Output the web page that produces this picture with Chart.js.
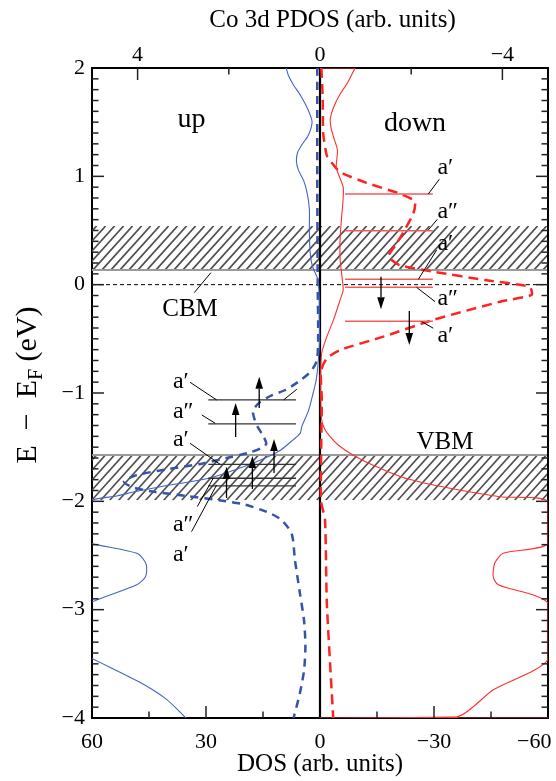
<!DOCTYPE html>
<html><head><meta charset="utf-8">
<script src="https://cdn.jsdelivr.net/npm/chart.js@4.4.1/dist/chart.umd.min.js"></script>
<style>html,body{margin:0;padding:0;background:#fff;}#wrap{width:556px;height:781px;}</style>
</head><body><div id="wrap"><canvas id="c" width="556" height="781"></canvas></div>
<script>
// ---------------- data (E in eV, DOS / PDOS in arb. units) ----------------
const upTotalE   = [2.0,1.93,1.85,1.74,1.62,1.51,1.44,1.37,1.29,1.22,1.14,1.06,0.96,0.85,0.70,0.50,0.30,0.17,0.05,-0.10,-0.30,-0.50,-0.73,-0.88,-1.00,-1.16,-1.31,-1.37,-1.43,-1.53,-1.62,-1.71,-1.79,-1.85,-1.91,-1.95,-1.99,-2.15,-2.30,-2.39,-2.48,-2.56,-2.62,-2.70,-2.77,-2.93,-3.10,-3.30,-3.45,-3.67,-3.83,-4.00];
const upTotalDOS = [8.9,8.3,7.1,5.0,3.2,2.1,2.4,3.2,4.8,5.9,6.2,5.7,4.3,3.4,2.8,2.8,2.6,2.0,0.6,0.2,0.2,0.1,0.5,1.0,1.8,3.0,4.8,5.2,7.0,10.5,15.8,22.5,29.5,39.6,48.5,53.5,60,68,68,60,48.2,46.0,45.6,46.0,48.2,60,68,68,60,47.4,40.3,35.3];

const upPdosE   = [2.0,1.0,0.0,-0.5,-0.70,-0.80,-0.88,-0.97,-1.03,-1.10,-1.17,-1.25,-1.31,-1.40,-1.47,-1.51,-1.55,-1.59,-1.65,-1.70,-1.76,-1.82,-1.87,-1.91,-1.95,-1.99,-2.03,-2.10,-2.17,-2.30,-2.54,-2.85,-3.10,-3.34,-3.56,-3.77,-4.00];
const upPdosVal = [0.06,0.06,0.05,0.04,0.07,0.20,0.42,0.75,1.10,1.36,1.47,1.43,1.37,1.24,1.18,1.30,1.55,1.95,2.57,3.30,4.04,4.30,4.11,3.67,2.94,2.21,1.65,1.15,0.85,0.62,0.55,0.44,0.35,0.32,0.35,0.44,0.58];

const downTotalE   = [2.0,2.0,1.957,1.85,1.76,1.64,1.53,1.45,1.37,1.24,1.08,0.90,0.75,0.63,0.43,0.23,0.10,-0.05,-0.14,-0.33,-0.48,-0.63,-0.80,-0.91,-1.10,-1.25,-1.33,-1.40,-1.48,-1.556,-1.62,-1.68,-1.79,-1.88,-1.957,-2.00,-2.39,-2.48,-2.57,-2.70,-2.77,-2.94,-3.46,-3.74,-3.99,-4.0,-4.0];
const downTotalDOS = [0,-9.1,-8.6,-7.0,-5.3,-3.6,-2.7,-2.9,-3.5,-4.6,-4.3,-6.1,-6.0,-5.7,-5.3,-5.3,-5.7,-6.1,-5.3,-3.5,-1.8,-0.45,-0.2,-0.18,-0.25,-0.45,-1.2,-2.6,-4.8,-7.9,-11.2,-14.9,-22.8,-34.2,-47.4,-60,-60,-48.2,-46.0,-45.6,-46.9,-60,-60,-45.6,-36.0,0,-60];

const downPdosE   = [2.0,1.71,1.40,1.19,1.13,1.04,0.94,0.84,0.77,0.66,0.50,0.36,0.26,0.18,0.12,0.04,-0.02,-0.095,-0.157,-0.326,-0.48,-0.603,-0.68,-0.80,-1.06,-1.99,-2.17,-2.94,-4.0];
const downPdosVal = [-0.03,-0.06,-0.07,-0.15,-0.25,-0.44,-1.02,-1.75,-2.08,-2.05,-1.85,-1.65,-1.5,-1.75,-2.49,-3.66,-4.6,-4.64,-3.95,-2.48,-1.39,-0.44,-0.15,-0.02,-0.04,-0.02,-0.11,-0.15,-0.29];

// tick labels
const dosTicks  = [60,30,0,-30,-60];
const pdosTicks = [4,0,-4];
const eTicks    = [2,1,0,-1,-2,-3,-4];

// annotations (data units)
const bands = [[0.136,0.542],[-1.99,-1.572]];
const cbmE = 0.136, vbmE = -1.572;
const upLevelE = [-1.064,-1.285,-1.658,-1.787,-1.858];
const upLevelSpan = [29.4,6.3];
const downLevelE = [0.837,0.498,0.050,-0.024,-0.338];
const downLevelSpan = [-6.6,-29.7];
const upArrows = [[16.0,-1.138,-0.849],[22.2,-1.406,-1.092],[12.1,-1.738,-1.424],[17.8,-1.886,-1.581],[24.6,-1.969,-1.68]];
const downArrows = [[-16.05,0.074,-0.227],[-23.5,-0.243,-0.557]];
const upLabelText = ['a\u2032','a\u2033','a\u2032','a\u2033','a\u2032'];
const upLabelE = [-0.954,-1.230,-1.489,-2.274,-2.551];
const upLabelX = 38.7;
const downLabelText = ['a\u2032','a\u2033','a\u2032','a\u2033','a\u2032'];
const downLabelE = [1.022,0.613,0.320,-0.187,-0.529];
const downLabelX = -30.9;
const leaders = [[-28.5,0.837,-31.4,0.973],[-28.5,0.505,-30.9,0.604],[-25.9,0.050,-30.7,0.320],[-25.4,-0.024,-30.3,-0.157],[-26.8,-0.342,-29.8,-0.402],
  [34.2,-0.901,27.2,-1.064],[31.1,-1.203,27.6,-1.279],[34.2,-1.464,26.3,-1.658],[32.3,-2.049,28.1,-1.787],[33.8,-2.28,27.2,-1.849],[9.6,-1.064,6.1,-0.966],
  [33.1,-0.074,28.7,0.111]];
const textLabels = [['up',33.8,1.456,28],['down',-25,1.419,28],['VBM',-32.9,-1.517,25],['CBM',34.2,-0.289,25]];

// --------------------------------------------------------------------------
const SERIF = "'Liberation Serif','Times New Roman',serif";
Chart.defaults.font.family = SERIF;
Chart.defaults.color = '#000';
const fmt = v => (v < 0 ? '\u2212' + Math.abs(v) : String(v));
const pts = (es, vs) => es.map((e, i) => ({x: vs[i], y: e}));

const deco = {
  id: 'deco',
  beforeDatasetsDraw(chart) {
    const {ctx, chartArea: a, scales: {x, y}} = chart;
    ctx.save();
    bands.forEach(([e0, e1]) => {
      const yT = y.getPixelForValue(e1), yB = y.getPixelForValue(e0), h = yB - yT;
      ctx.save();
      ctx.beginPath(); ctx.rect(a.left, yT, a.right - a.left, h); ctx.clip();
      ctx.strokeStyle = '#505050'; ctx.lineWidth = 1.7;
      for (let k = -h; k < a.right - a.left + h; k += 9) {
        ctx.beginPath(); ctx.moveTo(a.left + k, yB); ctx.lineTo(a.left + k + h * 0.9, yT); ctx.stroke();
      }
      ctx.restore();
    });
    ctx.strokeStyle = '#9a9a9a'; ctx.lineWidth = 2;
    [cbmE, vbmE].forEach(e => { const p = y.getPixelForValue(e); ctx.beginPath(); ctx.moveTo(a.left, p); ctx.lineTo(a.right, p); ctx.stroke(); });
    // Fermi level
    ctx.strokeStyle = '#000'; ctx.lineWidth = 1; ctx.setLineDash([4, 3]);
    const p0 = y.getPixelForValue(0);
    ctx.beginPath(); ctx.moveTo(a.left, p0); ctx.lineTo(a.right, p0); ctx.stroke();
    ctx.setLineDash([]);
    // zero DOS line
    const x0 = x.getPixelForValue(0);
    ctx.lineWidth = 2.2; ctx.beginPath(); ctx.moveTo(x0, a.top); ctx.lineTo(x0, a.bottom); ctx.stroke();
    // right frame
    ctx.lineWidth = 2; ctx.beginPath(); ctx.moveTo(a.right, a.top); ctx.lineTo(a.right, a.bottom); ctx.stroke();
    ctx.restore();
  },
  afterDatasetsDraw(chart) {
    const {ctx, chartArea: a, scales: {x, y, xTop}} = chart;
    const X = v => x.getPixelForValue(v), Y = v => y.getPixelForValue(v);
    ctx.save();
    // levels
    ctx.lineWidth = 1.3; ctx.strokeStyle = '#333';
    upLevelE.forEach(e => { ctx.beginPath(); ctx.moveTo(X(upLevelSpan[0]), Y(e)); ctx.lineTo(X(upLevelSpan[1]), Y(e)); ctx.stroke(); });
    ctx.lineWidth = 1.5; ctx.strokeStyle = '#f25a5a';
    downLevelE.forEach(e => { ctx.beginPath(); ctx.moveTo(X(downLevelSpan[0]), Y(e)); ctx.lineTo(X(downLevelSpan[1]), Y(e)); ctx.stroke(); });
    // arrows
    const arrow = (xv, e0, e1) => {
      const px = X(xv), ya = Y(e0), yb = Y(e1), dir = yb < ya ? -1 : 1, L = 12, W = 3.8;
      ctx.strokeStyle = '#000'; ctx.fillStyle = '#000'; ctx.lineWidth = 1.3;
      ctx.beginPath(); ctx.moveTo(px, ya); ctx.lineTo(px, yb - dir * L); ctx.stroke();
      ctx.beginPath(); ctx.moveTo(px, yb); ctx.lineTo(px - W, yb - dir * L); ctx.lineTo(px + W, yb - dir * L); ctx.closePath(); ctx.fill();
    };
    upArrows.forEach(r => arrow(...r));
    downArrows.forEach(r => arrow(...r));
    // leader lines
    ctx.strokeStyle = '#000'; ctx.lineWidth = 1;
    leaders.forEach(([a1, b1, a2, b2]) => { ctx.beginPath(); ctx.moveTo(X(a1), Y(b1)); ctx.lineTo(X(a2), Y(b2)); ctx.stroke(); });
    // labels
    ctx.fillStyle = '#000'; ctx.textBaseline = 'alphabetic';
    ctx.font = '24px ' + SERIF; ctx.textAlign = 'left';
    upLabelText.forEach((t, i) => ctx.fillText(t, X(upLabelX), Y(upLabelE[i])));
    downLabelText.forEach((t, i) => ctx.fillText(t, X(downLabelX), Y(downLabelE[i])));
    ctx.textAlign = 'center';
    textLabels.forEach(([t, xv, e, s]) => { ctx.font = s + 'px ' + SERIF; ctx.fillText(t, X(xv), Y(e)); });
    // inner ticks
    ctx.strokeStyle = '#222'; ctx.lineWidth = 1.5;
    const tick = (x1, y1, x2, y2) => { ctx.beginPath(); ctx.moveTo(x1, y1); ctx.lineTo(x2, y2); ctx.stroke(); };
    for (let k = -39; k <= 19; k++) {
      const e = k / 10, p = Y(e), len = (k % 10 === 0) ? 12 : 6.5;
      tick(a.left, p, a.left + len, p); tick(a.right, p, a.right - len, p);
    }
    [[30,12],[-30,12],[45,6.5],[15,6.5],[-15,6.5],[-45,6.5]].forEach(([v, len]) => tick(X(v), a.bottom, X(v), a.bottom - len));
    [[4,12],[-4,12],[2,6.5],[-2,6.5]].forEach(([v, len]) => tick(xTop.getPixelForValue(v), a.top, xTop.getPixelForValue(v), a.top + len));
    ctx.restore();
  },
  afterDraw(chart) {
    const {ctx, chartArea: a} = chart;
    ctx.save();
    ctx.translate(26, (a.top + a.bottom) / 2 - 8);
    ctx.rotate(-Math.PI / 2);
    const parts = [['E\u2002\u2212\u2002E', '30px ' + SERIF, 0], ['F', '20px ' + SERIF, 6], [' (eV)', '30px ' + SERIF, 0]];
    let total = 0;
    parts.forEach(p => { ctx.font = p[1]; p.w = ctx.measureText(p[0]).width; total += p.w; });
    let cx = -total / 2;
    ctx.fillStyle = '#000'; ctx.textBaseline = 'alphabetic'; ctx.textAlign = 'left';
    parts.forEach(p => { ctx.font = p[1]; ctx.fillText(p[0], cx, 10 + p[2]); cx += p.w; });
    ctx.restore();
  }
};

new Chart(document.getElementById('c'), {
  type: 'scatter',
  data: {
    datasets: [
      {label: 'up total', data: pts(upTotalE, upTotalDOS), xAxisID: 'x', yAxisID: 'y', showLine: true, borderColor: '#4565c2', borderWidth: 1.1, pointRadius: 0, tension: 0.25},
      {label: 'down total', data: pts(downTotalE, downTotalDOS), xAxisID: 'x', yAxisID: 'y', showLine: true, borderColor: '#ff3030', borderWidth: 1.1, pointRadius: 0, tension: 0.25},
      {label: 'up Co 3d', data: pts(upPdosE, upPdosVal), xAxisID: 'xTop', yAxisID: 'y', showLine: true, borderColor: '#3553a8', borderWidth: 2.5, borderDash: [8, 6], pointRadius: 0, tension: 0.25},
      {label: 'down Co 3d', data: pts(downPdosE, downPdosVal), xAxisID: 'xTop', yAxisID: 'y', showLine: true, borderColor: '#ff2222', borderWidth: 2.5, borderDash: [10, 6], pointRadius: 0, tension: 0.2}
    ]
  },
  options: {
    responsive: false, animation: false, devicePixelRatio: 1,
    layout: {padding: {left: 0, right: 8, top: 0, bottom: 0}},
    plugins: {legend: {display: false}, tooltip: {enabled: false}},
    scales: {
      x: {
        type: 'linear', position: 'bottom', min: -60, max: 60, reverse: true,
        afterBuildTicks: s => { s.ticks = dosTicks.map(v => ({value: v})); },
        ticks: {font: {size: 22}, color: '#000', padding: 11, maxRotation: 0, autoSkip: false,
          callback: v => v === -60 ? fmt(v) + '\u00a0\u00a0\u00a0\u00a0\u00a0' : fmt(v)},
        grid: {display: false, drawTicks: false},
        border: {display: true, color: '#000', width: 2},
        title: {display: true, text: 'DOS (arb. units)', font: {size: 25}, color: '#000', padding: {top: 0, bottom: 2}},
        afterFit: s => { s.height = 63; s.paddingLeft = 0; s.paddingRight = 0; }
      },
      xTop: {
        type: 'linear', position: 'top', min: -5, max: 5, reverse: true,
        afterBuildTicks: s => { s.ticks = pdosTicks.map(v => ({value: v})); },
        ticks: {font: {size: 22}, color: '#000', padding: 0, maxRotation: 0, autoSkip: false, callback: fmt},
        grid: {display: false, drawTicks: false},
        border: {display: true, color: '#000', width: 2},
        title: {display: true, text: '\u00a0\u00a0\u00a0\u00a0Co 3d PDOS (arb. units)', font: {size: 25}, color: '#000', padding: {top: 5, bottom: 0}},
        afterFit: s => { s.height = 68; s.paddingLeft = 0; s.paddingRight = 0; }
      },
      y: {
        type: 'linear', position: 'left', min: -4, max: 2,
        afterBuildTicks: s => { s.ticks = eTicks.map(v => ({value: v})); },
        ticks: {font: {size: 22}, color: '#000', padding: 7, autoSkip: false, callback: fmt},
        grid: {display: false, drawTicks: false},
        border: {display: true, color: '#000', width: 2},
        afterFit: s => { s.width = 92; s.paddingTop = 0; s.paddingBottom = 0; }
      }
    }
  },
  plugins: [deco]
});
</script></body></html>
